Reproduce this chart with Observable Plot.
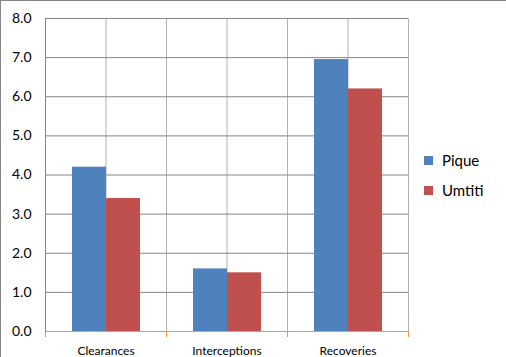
<!DOCTYPE html>
<html>
<head>
<meta charset="utf-8">
<script src="https://cdn.jsdelivr.net/npm/d3@7"></script>
<script src="https://cdn.jsdelivr.net/npm/@observablehq/plot@0.6"></script>
<style>
  html, body { margin: 0; padding: 0; background: #fff; }
  #wrap { position: relative; width: 506px; height: 357px; box-sizing: border-box;
          border-top: 1px solid #868686; border-left: 1px solid #868686; overflow: hidden;
          font-family: Lato, "Liberation Sans", sans-serif; }
  #chart { position: absolute; left: -1px; top: -1px; }
  #legend { position: absolute; left: 423px; top: 144px; font-size: 15px; color: #000; }
  .row { display: flex; align-items: center; height: 30px; }
  .sw { width: 9px; height: 9px; margin-right: 9px; }
</style>
</head>
<body>
<div id="wrap"><div id="chart"></div><div id="legend"></div></div>
<script>
const categories = ["Clearances", "Interceptions", "Recoveries"];
const series = ["Pique", "Umtiti"];
const pique = [4.2, 1.6, 6.95];
const umtiti = [3.4, 1.5, 6.2];
const yTicks = [0, 1, 2, 3, 4, 5, 6, 7, 8];
const colors = ["#4f81bd", "#c0504d"];

const values = [pique, umtiti];
const data = [];
categories.forEach((c, i) => series.forEach((s, j) => data.push({category: c, series: s, value: values[j][i]})));

const orange = "#f79646";
const chart = Plot.plot({
  width: 506,
  height: 357,
  marginLeft: 44,
  marginRight: 98,
  marginTop: 18,
  marginBottom: 26,
  style: {fontFamily: "Lato, 'Liberation Sans', sans-serif", color: "#000", background: "transparent"},
  fx: {domain: categories, padding: 0, axis: null},
  x: {domain: series, paddingInner: 0, paddingOuter: 0.758, axis: null},
  y: {domain: [0, 8], axis: null},
  color: {domain: series, range: colors},
  marks: [
    Plot.frame({stroke: "#b3b3b3"}),
    Plot.gridFx({stroke: "#b3b3b3", strokeOpacity: 1}),
    Plot.gridY(yTicks, {stroke: "#868686", strokeOpacity: 1}),
    Plot.barY(data, {fx: "category", x: "series", y: "value", fill: "series"}),
    Plot.ruleY([0], {stroke: orange, strokeWidth: 1}),
    Plot.frame({anchor: "left", stroke: orange, insetTop: 313, insetBottom: -5}),
    Plot.frame({anchor: "right", stroke: orange, insetTop: 313, insetBottom: -5}),
    Plot.frame({anchor: "left", stroke: "#868686", facetAnchor: "left"}),
    Plot.axisY(yTicks, {tickSize: 0, tickPadding: 14, fontSize: 14, label: null, tickFormat: d3.format(".1f")}),
    Plot.axisFx({anchor: "bottom", tickSize: 0, tickPadding: 15, fontSize: 12, label: null})
  ]
});
document.getElementById("chart").appendChild(chart);

const legend = document.getElementById("legend");
series.forEach((s, j) => {
  const row = document.createElement("div");
  row.className = "row";
  row.innerHTML = `<div class="sw" style="background:${colors[j]}"></div><span>${s}</span>`;
  legend.appendChild(row);
});
</script>
</body>
</html>
